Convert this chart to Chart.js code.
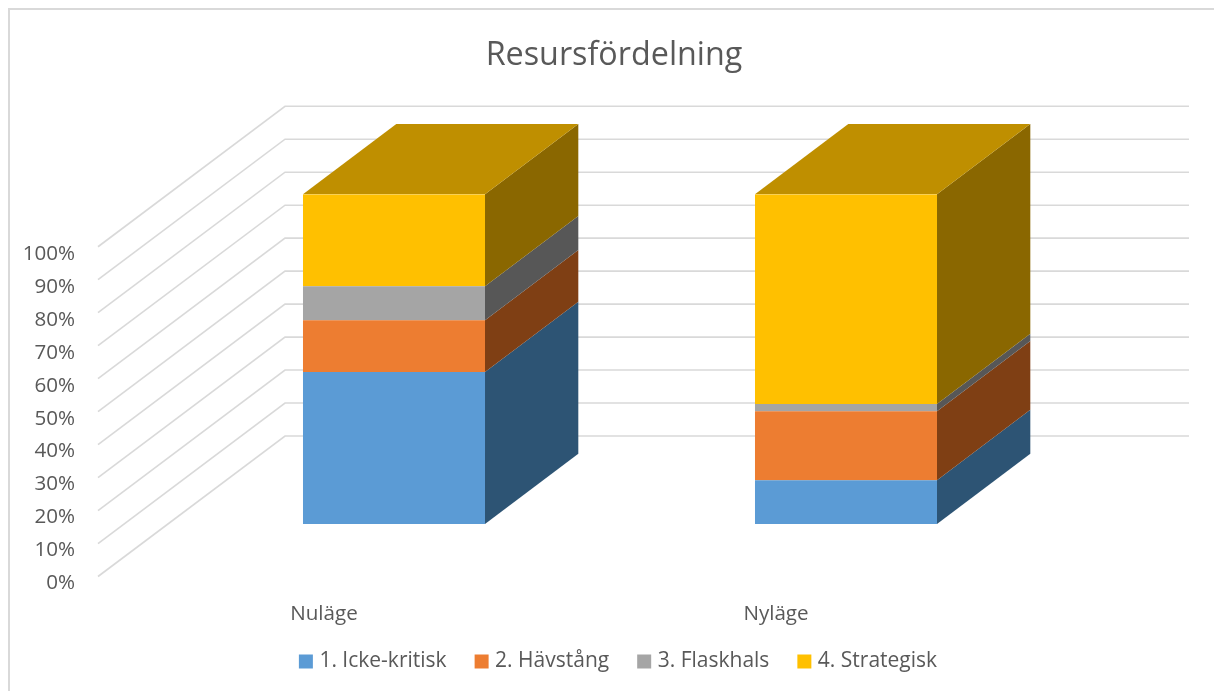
<!DOCTYPE html>
<html>
<head>
<meta charset="utf-8">
<title>Resursfördelning</title>
<script src="https://cdn.jsdelivr.net/npm/chart.js@4.4.0/dist/chart.umd.min.js"></script>
<style>
  html, body { margin: 0; padding: 0; background: #fff; }
  #wrap { width: 1214px; height: 691px; }
</style>
</head>
<body>
<div id="wrap"><canvas id="chart" width="1214" height="691"></canvas></div>
<script>
const CATEGORIES = ['Nuläge', 'Nyläge'];
const SERIES_NAMES = ['1. Icke-kritisk', '2. Hävstång', '3. Flaskhals', '4. Strategisk'];
const ICKE_KRITISK = [46.1, 13.3];
const HAVSTANG = [15.7, 20.9];
const FLASKHALS = [10.3, 2.2];
const STRATEGISK = [27.9, 63.6];

const FRONT_COLORS = ['#5B9BD5', '#ED7D31', '#A5A5A5', '#FFC000'];
const SIDE_COLORS = ['#2D5474', '#7F3F14', '#575757', '#8A6700'];
const TOP_COLOR = '#BF8F00';
const GRID_COLOR = '#D9D9D9';
const TEXT_COLOR = '#595959';
const FONT = "'Open Sans', sans-serif";

// djup på staplarna och väggen bakom
const DEPTH_X = 93.3, DEPTH_Y = 70.3;
const WALL = { x0: 98, x1: 285, x2: 1189, drop: 52.5, rise: 88 };

const wallAndDepth = {
  id: 'wallAndDepth',
  beforeDraw(chart) {
    const c = chart.ctx;
    c.save();
    c.fillStyle = '#fff';
    c.fillRect(0, 0, chart.width, chart.height);
    c.strokeStyle = GRID_COLOR;
    c.lineWidth = 2;
    c.beginPath();
    c.moveTo(9, chart.height);
    c.lineTo(9, 9);
    c.lineTo(chart.width, 9);
    c.stroke();
    c.restore();
  },
  beforeDatasetsDraw(chart) {
    const c = chart.ctx;
    const y = chart.scales.y;

    // Rutnät
    c.save();
    c.strokeStyle = GRID_COLOR;
    c.lineWidth = 1.6;
    y.ticks.forEach(t => {
      const py = y.getPixelForValue(t.value);
      c.beginPath();
      c.moveTo(WALL.x0, py + WALL.drop);
      c.lineTo(WALL.x1, py - WALL.rise);
      c.lineTo(WALL.x2, py - WALL.rise);
      c.stroke();
    });

    // Sidor och tak
    chart.data.datasets.forEach((ds, i) => {
      chart.getDatasetMeta(i).data.forEach(bar => {
        const right = bar.x + bar.width / 2;
        c.fillStyle = SIDE_COLORS[i];
        c.beginPath();
        c.moveTo(right, bar.y);
        c.lineTo(right + DEPTH_X, bar.y - DEPTH_Y);
        c.lineTo(right + DEPTH_X, bar.base - DEPTH_Y);
        c.lineTo(right, bar.base);
        c.closePath();
        c.fill();
        if (i === chart.data.datasets.length - 1) {
          const left = bar.x - bar.width / 2;
          c.fillStyle = TOP_COLOR;
          c.beginPath();
          c.moveTo(left, bar.y);
          c.lineTo(left + DEPTH_X, bar.y - DEPTH_Y);
          c.lineTo(right + DEPTH_X, bar.y - DEPTH_Y);
          c.lineTo(right, bar.y);
          c.closePath();
          c.fill();
        }
      });
    });
    c.restore();
  }
};

new Chart(document.getElementById('chart'), {
  type: 'bar',
  plugins: [wallAndDepth],
  data: {
    labels: CATEGORIES,
    datasets: [ICKE_KRITISK, HAVSTANG, FLASKHALS, STRATEGISK].map((vals, i) => ({
      label: SERIES_NAMES[i],
      data: vals,
      backgroundColor: FRONT_COLORS[i],
      borderWidth: 0,
      barPercentage: 0.4027,
      categoryPercentage: 1
    }))
  },
  options: {
    responsive: false,
    animation: false,
    layout: { padding: { left: 14, right: 0, top: 0, bottom: 9 } },
    plugins: {
      tooltip: { enabled: false },
      title: {
        display: true,
        text: 'Resursfördelning',
        color: TEXT_COLOR,
        font: { family: FONT, size: 32.3, weight: 'normal' },
        padding: { top: 36, bottom: 119.5 }
      },
      legend: {
        position: 'bottom',
        fullSize: false,
        labels: {
          color: TEXT_COLOR,
          font: { family: FONT, size: 21 },
          boxWidth: 6,
          boxHeight: 6,
          padding: 32,
          // tjock kant ger rutan full storlek men kort avstånd till texten
          generateLabels(chart) {
            return Chart.defaults.plugins.legend.labels.generateLabels(chart).map(l => ({
              ...l, lineWidth: 8, strokeStyle: l.fillStyle
            }));
          }
        }
      }
    },
    scales: {
      x: {
        stacked: true,
        grid: { display: false, drawTicks: false },
        border: { display: false },
        // mirror: etiketten klipps annars av axelns höjd (padding vänds då)
        ticks: { color: TEXT_COLOR, font: { family: FONT, size: 20.6 }, mirror: true, labelOffset: -70, padding: -102.4, maxRotation: 0 },
        afterFit(s) { s.height = 95; }
      },
      y: {
        stacked: true,
        min: 0,
        max: 100,
        grid: { display: false, drawTicks: false },
        border: { display: false },
        ticks: {
          stepSize: 10,
          autoSkip: false,
          color: TEXT_COLOR,
          font: { family: FONT, size: 20.6 },
          labelOffset: 59.5,
          padding: 93,
          callback: v => v + '%'
        },
        afterFit(s) { s.width = 154; }
      },
      // tom axel som håller plats till höger
      right: {
        position: 'right',
        display: true,
        grid: { display: false, drawTicks: false },
        border: { display: false },
        ticks: { display: false },
        afterFit(s) { s.width = 142; }
      }
    }
  }
});
</script>
</body>
</html>
